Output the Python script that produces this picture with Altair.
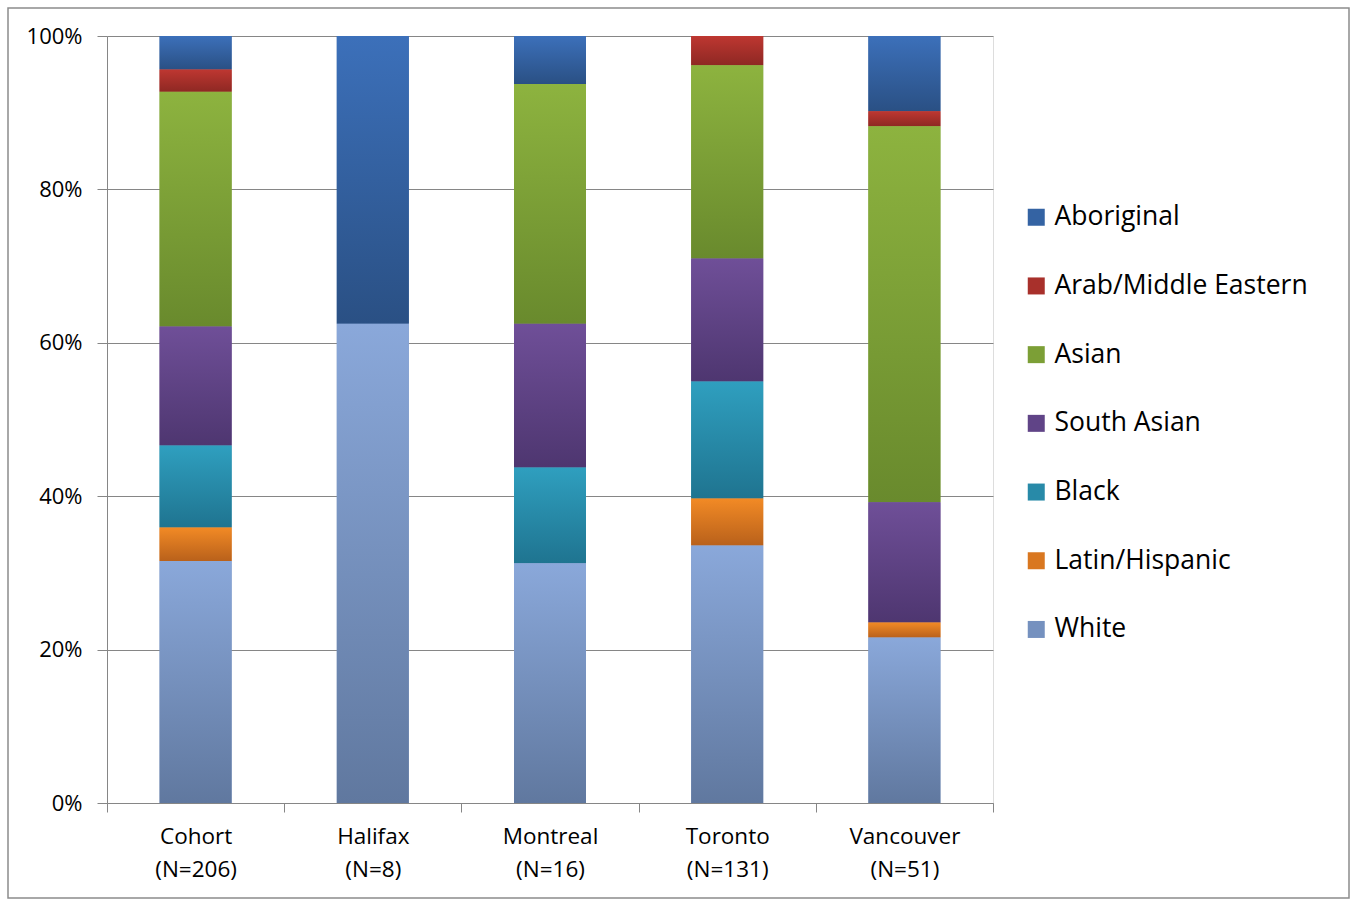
import altair as alt
import pandas as pd

sites = ["Cohort", "Halifax", "Montreal", "Toronto", "Vancouver"]
groups = ["Aboriginal", "Arab/Middle Eastern", "Asian", "South Asian", "Black", "Latin/Hispanic", "White"]
# counts per group, in site order
aboriginal = [9, 3, 1, 0, 5]
arab = [6, 0, 0, 5, 1]
asian = [63, 0, 5, 33, 25]
south_asian = [32, 0, 3, 21, 8]
black = [22, 0, 2, 20, 0]
latin = [9, 0, 0, 8, 1]
white = [65, 5, 5, 44, 11]

series = [aboriginal, arab, asian, south_asian, black, latin, white]
tops = ["#3c70ba", "#be3731", "#8db33f", "#6f4f98", "#2f9fbf", "#f28a25", "#8aa8da"]
bottoms = ["#2a5084", "#8e2823", "#698a2d", "#4e3670", "#1f7490", "#b9611b", "#60789f"]
mids = ["#3463a3", "#a8302b", "#7c9f36", "#604487", "#288aa8", "#d97720", "#7591bf"]

totals = [sum(s[i] for s in series) for i in range(len(sites))]
labels = [f"{s}\n(N={n})" for s, n in zip(sites, totals)]

rows = []
for gi, (g, vals) in enumerate(zip(groups, series)):
    for si, lab in enumerate(labels):
        rows.append({"site": lab, "group": g, "count": vals[si], "order": len(groups) - gi})
df = pd.DataFrame(rows)

FONT = "Open Sans"
GRAY = "#868686"

base = alt.Chart(df).transform_stack(
    stack="count", groupby=["site"], as_=["y0", "y1"], offset="normalize",
    sort=[alt.SortField("order", order="ascending")]
)

xenc = alt.X("site:N", sort=labels, title=None,
             scale=alt.Scale(paddingInner=0, paddingOuter=0),
             axis=alt.Axis(labelAngle=0, labelExpr="split(datum.label, '\\n')",
                           labelFontSize=22.5, labelLineHeight=33, labelColor="#000000",
                           labelPadding=13, tickBand="extent", tickSize=9,
                           tickColor=GRAY, domainColor=GRAY, labelFont=FONT,
                           labelBaseline="top", grid=False))
yenc = alt.Y("y0:Q", title=None, scale=alt.Scale(domain=[0, 1], nice=False),
             axis=alt.Axis(format=".0%", values=[0, 0.2, 0.4, 0.6, 0.8, 1.0],
                           labelFontSize=22, labelColor="#000000", labelFont=FONT,
                           labelPadding=15, tickSize=10, tickColor=GRAY,
                           domainColor=GRAY, gridColor=GRAY, gridWidth=1))

legend_layer = base.mark_bar(size=72).encode(
    x=xenc, y=yenc, y2="y1:Q",
    color=alt.Color("group:N", scale=alt.Scale(domain=groups, range=mids),
                    legend=alt.Legend(title=None, orient="none", legendX=916, legendY=168,
                                      labelFontSize=26.5, labelFont=FONT, labelColor="#000000",
                                      symbolType="square", symbolSize=289,
                                      symbolStrokeWidth=0, rowPadding=41.7,
                                      labelOffset=5, labelLimit=400)),
)

layers = [legend_layer]
for g, t, b in zip(groups, tops, bottoms):
    grad = alt.LinearGradient(
        gradient="linear", x1=0, x2=0, y1=0, y2=1,
        stops=[alt.GradientStop(offset=0, color=t), alt.GradientStop(offset=1, color=b)],
    )
    layers.append(
        base.transform_filter(alt.datum.group == g).mark_bar(size=72, color=grad).encode(
            x=alt.X("site:N", sort=labels), y="y0:Q", y2="y1:Q"
        )
    )

frame = alt.Chart(pd.DataFrame({"a": [0]})).mark_rect(
    fill=None, stroke="#8c8c8c", strokeWidth=1.5
).encode(x=alt.value(-99), x2=alt.value(1242), y=alt.value(-28), y2=alt.value(862))

chart = alt.layer(*layers, frame).properties(
    width=886, height=767,
    autosize=alt.AutoSizeParams(type="none"),
    padding={"left": 107, "top": 36, "right": 360, "bottom": 98},
).configure_view(stroke=None).configure(font=FONT, background="white")

chart.save("out.html", embed_options={"renderer": "svg", "actions": False})
